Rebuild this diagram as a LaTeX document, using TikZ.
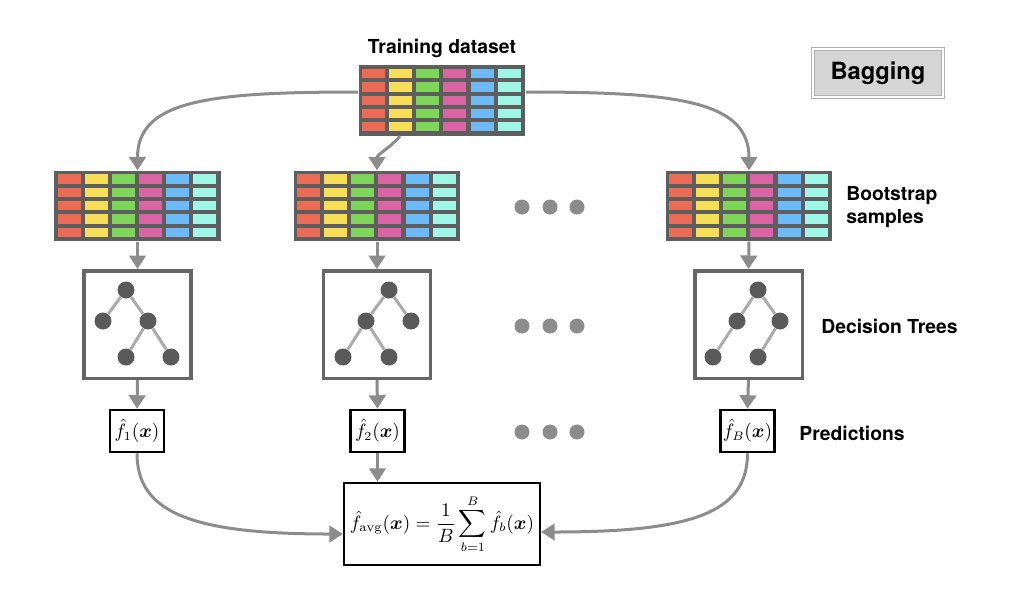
\documentclass[tikz,border=0pt]{standalone}
\usepackage{amsmath,bm}
\usepackage{fontspec}
\newfontfamily\heros{TeX Gyre Heros}
\usetikzlibrary{arrows.meta,calc}

\definecolor{cellred}{HTML}{EB6B55}
\definecolor{cellyellow}{HTML}{F6DF56}
\definecolor{cellgreen}{HTML}{7ED658}
\definecolor{cellpink}{HTML}{DC63A4}
\definecolor{cellblue}{HTML}{6CBAF8}
\definecolor{cellcyan}{HTML}{9DF6E6}
\definecolor{gridgray}{HTML}{5E5E5E}
\definecolor{boxgray}{HTML}{666666}
\definecolor{knotgray}{HTML}{5A5A5A}
\definecolor{edgegray}{HTML}{AAAAAA}
\definecolor{arrowgray}{HTML}{8C8C8C}
\definecolor{bagfill}{HTML}{D5D5D5}
\definecolor{bagline}{HTML}{B0B0B0}

\begin{document}
\begin{tikzpicture}[x=0.02cm,y=-0.02cm,
  datatable/.style={fill=gridgray, inner sep=0, minimum width=3.34cm, minimum height=1.41cm},
  treebox/.style={draw=boxgray, line width=0.07cm, minimum size=2.15cm},
  treenode/.style={circle, fill=knotgray, inner sep=0, minimum size=0.34cm},
  treeedge/.style={draw=edgegray, line width=0.06cm},
  predbox/.style={draw, line width=0.05cm, minimum width=1.08cm, minimum height=0.84cm, inner sep=0, font=\fontsize{10.5}{12}\selectfont},
  avgbox/.style={draw, line width=0.05cm, minimum width=3.9cm, minimum height=1.64cm, font=\fontsize{10.5}{12}\selectfont},
  flowarrow/.style={draw=arrowgray, line width=0.06cm, -{Triangle[width=0.33cm,length=0.27cm]}},
  gapdot/.style={circle, fill=arrowgray, inner sep=0, minimum size=0.3cm},
  sidetext/.style={inner sep=0, font=\heros\bfseries\fontsize{11}{13}\selectfont},
  bagbox/.style={draw=bagline, double=white, double distance=0.04cm, line width=0.02cm, fill=bagfill, minimum width=2.6cm, minimum height=0.96cm, font=\heros\bfseries\fontsize{13.5}{16}\selectfont}]

\useasboundingbox (0,0) rectangle (1024,600);

% data tables
\foreach \t/\cx/\cy in {data/442/100.5, boot1/137.5/206, boot2/377/206, boot3/749/206} {
  \node[datatable] (\t) at (\cx,\cy) {};
  \foreach \c [count=\i from 0] in {cellred,cellyellow,cellgreen,cellpink,cellblue,cellcyan}
    \foreach \j in {0,...,4}
      \fill[\c] ($(\t.north west)+(27.1*\i+4,13.3*\j+4)$) rectangle +(23,9.3);
}

\node[sidetext] (traintext) at (442,48) {Training dataset};
\node[bagbox] (bagging) at (878,73) {Bagging};

% decision trees
\node[treebox] (tree1) at (137.5,324.5) {};
\node[treebox] (tree2) at (377,324.5) {};
\node[treebox] (tree3) at (748.5,324.5) {};

\node[treenode] (t1n1) at (126,290) {};
\node[treenode] (t1n2) at (103,321) {};
\node[treenode] (t1n3) at (148,321) {};
\node[treenode] (t1n4) at (126,357) {};
\node[treenode] (t1n5) at (171,357) {};
\draw[treeedge] (t1n1) -- (t1n2);
\draw[treeedge] (t1n1) -- (t1n3);
\draw[treeedge] (t1n3) -- (t1n4);
\draw[treeedge] (t1n3) -- (t1n5);

\node[treenode] (t2n1) at (389,290) {};
\node[treenode] (t2n2) at (366,321) {};
\node[treenode] (t2n3) at (411,321) {};
\node[treenode] (t2n4) at (343,357) {};
\node[treenode] (t2n5) at (389,357) {};
\draw[treeedge] (t2n1) -- (t2n2);
\draw[treeedge] (t2n1) -- (t2n3);
\draw[treeedge] (t2n2) -- (t2n4);
\draw[treeedge] (t2n2) -- (t2n5);

\node[treenode] (t3n1) at (758,290) {};
\node[treenode] (t3n2) at (737,321) {};
\node[treenode] (t3n3) at (780,321) {};
\node[treenode] (t3n4) at (713,357) {};
\node[treenode] (t3n5) at (758,357) {};
\draw[treeedge] (t3n1) -- (t3n2);
\draw[treeedge] (t3n1) -- (t3n3);
\draw[treeedge] (t3n2) -- (t3n4);
\draw[treeedge] (t3n3) -- (t3n5);

% predictions
\node[predbox] (pred1) at (137,431) {$\hat{f}_1(\bm{x})$};
\node[predbox] (pred2) at (377.5,431) {$\hat{f}_2(\bm{x})$};
\node[predbox] (pred3) at (747.5,431) {$\hat{f}_B(\bm{x})$};
\node[avgbox] (avg) at (442,524) {$\hat{f}_{\mathrm{avg}}(\bm{x}) = \dfrac{1}{B}\displaystyle\sum_{b=1}^{B}\hat{f}_b(\bm{x})$};

% gap dots
\foreach \y [count=\k] in {207,326,432}
  \foreach \x [count=\m] in {522,550,577}
    \node[gapdot] (dot\k\m) at (\x,\y) {};

\node[sidetext, anchor=west, align=left] (boottext) at (846,207) {Bootstrap\\samples};
\node[sidetext, anchor=west] (treetext) at (821,326) {Decision Trees};
\node[sidetext, anchor=west] (predtext) at (799,433) {Predictions};

% arrows
\draw[flowarrow] ($(data.west)+(0,-8.5)$) to[out=180,in=90,out distance=3cm,in distance=1.4cm] (boot1.north);
\draw[flowarrow] ($(data.south)+(-42,0)$) to[out=-130,in=90] (boot2.north);
\draw[flowarrow] ($(data.east)+(0,-8.5)$) to[out=0,in=90,out distance=3cm,in distance=1.4cm] (boot3.north);

\draw[flowarrow] (boot1.south) -- (tree1.north);
\draw[flowarrow] (boot2.south) -- (tree2.north);
\draw[flowarrow] (boot3.south) -- (tree3.north);
\draw[flowarrow] (tree1.south) -- (pred1.north);
\draw[flowarrow] (tree2.south) -- (pred2.north);
\draw[flowarrow] (tree3.south) -- (pred3.north);

\draw[flowarrow] (pred2.south) -- (pred2.south |- avg.north);
\draw[flowarrow] (pred1.south) to[out=-90,in=180,out distance=1.2cm,in distance=3cm] ($(avg.west)+(0,10)$);
\draw[flowarrow] (pred3.south) to[out=-90,in=0,out distance=1.2cm,in distance=3cm] ($(avg.east)+(0,8)$);

\end{tikzpicture}
\end{document}
